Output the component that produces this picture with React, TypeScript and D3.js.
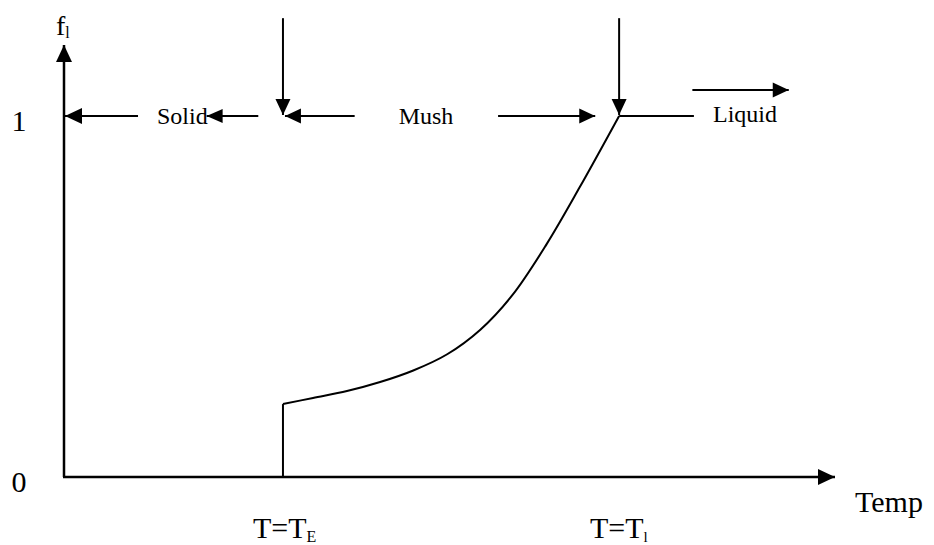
import React from "react";
import * as d3 from "d3";

// ---- data ----
const tempValues = [28.4, 32.3, 36.7, 41.0, 45.3, 49.7, 54.0, 58.2, 62.6, 66.9, 72.0];
const fractionValues = [0.202, 0.219, 0.238, 0.263, 0.295, 0.34, 0.408, 0.505, 0.645, 0.803, 1.0];
const eutecticTemp = 28.4;
const liquidusTemp = 72.0;
const yTickValues = [0, 1];
const yTickLabels = ["0", "1"];
const phaseLabels = ["Solid", "Mush", "Liquid"];

const W = 934;
const H = 545;
const FONT = "'Liberation Serif', 'Times New Roman', serif";

const x = d3.scaleLinear().domain([0, 100]).range([64, 835]);
const y = d3.scaleLinear().domain([0, 1]).range([477, 116]);

function arrowHead(tx: number, ty: number, dir: "l" | "r" | "u" | "d", len = 16, hw = 7.5) {
  let pts: [number, number][] = [];
  if (dir === "l") pts = [[tx, ty], [tx + len, ty - hw], [tx + len, ty + hw]];
  if (dir === "r") pts = [[tx, ty], [tx - len, ty - hw], [tx - len, ty + hw]];
  if (dir === "u") pts = [[tx, ty], [tx - hw, ty + len], [tx + hw, ty + len]];
  if (dir === "d") pts = [[tx, ty], [tx - hw, ty - len], [tx + hw, ty - len]];
  return "M" + pts.map((p) => p.join(",")).join("L") + "Z";
}

function Arrow({ x1, y1, x2, y2, dir, len, hw, sw = 2 }: any) {
  return (
    <g>
      <line x1={x1} y1={y1} x2={x2} y2={y2} stroke="#000" strokeWidth={sw} />
      <path d={arrowHead(x2, y2, dir, len, hw)} fill="#000" />
    </g>
  );
}

export default function App() {
  const curve = d3
    .line<number>()
    .x((_, i) => x(tempValues[i]))
    .y((d) => y(d))
    .curve(d3.curveCatmullRom.alpha(0.5))(fractionValues) as string;

  const yOne = y(1);
  const topY = y(1.271);
  const upperArrowY = y(1.072);

  return (
    <svg width={W} height={H} style={{ position: "absolute", left: 0, top: 0, background: "#fff" }}>
      <rect width={W} height={H} fill="#fff" />
      {/* axes */}
      <Arrow x1={x(0)} y1={y(0)} x2={x(0)} y2={y(1.197)} dir="u" len={17} hw={8} sw={2.5} />
      <Arrow x1={x(0) - 1} y1={y(0)} x2={x(100)} y2={y(0)} dir="r" len={17} hw={8} sw={2.5} />

      {/* y tick labels */}
      {yTickValues.map((v, i) => (
        <text key={i} x={19} y={y(v) + (v === 0 ? 15 : 15)} fontFamily={FONT} fontSize={30} textAnchor="middle">
          {yTickLabels[i]}
        </text>
      ))}

      {/* axis titles */}
      <text x={56} y={35} fontFamily={FONT} fontSize={28}>
        f<tspan fontSize={16} dy={3}>l</tspan>
      </text>
      <text x={855} y={512} fontFamily={FONT} fontSize={30}>Temp</text>

      {/* fraction liquid curve */}
      <line x1={x(eutecticTemp)} y1={y(0)} x2={x(eutecticTemp)} y2={y(fractionValues[0])} stroke="#000" strokeWidth={2} />
      <path d={curve} fill="none" stroke="#000" strokeWidth={2} />
      <line x1={x(liquidusTemp)} y1={yOne} x2={x(81.7)} y2={yOne} stroke="#000" strokeWidth={2} />

      {/* vertical marker arrows */}
      <Arrow x1={x(eutecticTemp)} y1={topY} x2={x(eutecticTemp)} y2={yOne - 1} dir="d" len={16} hw={7.5} />
      <Arrow x1={x(liquidusTemp)} y1={topY} x2={x(liquidusTemp)} y2={yOne - 1} dir="d" len={16} hw={7.5} />

      {/* Solid region */}
      <Arrow x1={x(9.6)} y1={yOne} x2={x(0) + 1} y2={yOne} dir="l" len={17} hw={8} />
      <text x={157} y={yOne + 8} fontFamily={FONT} fontSize={24}>{phaseLabels[0]}</text>
      <Arrow x1={x(25.2)} y1={yOne} x2={x(18.5)} y2={yOne} dir="l" len={16} hw={7} />

      {/* Mush region */}
      <Arrow x1={x(37.7)} y1={yOne} x2={x(eutecticTemp) + 2} y2={yOne} dir="l" len={16} hw={7.5} />
      <text x={426} y={yOne + 8} fontFamily={FONT} fontSize={24} textAnchor="middle">{phaseLabels[1]}</text>
      <Arrow x1={x(56.3)} y1={yOne} x2={x(68.9)} y2={yOne} dir="r" len={16} hw={7.5} />

      {/* Liquid region */}
      <Arrow x1={x(81.5)} y1={upperArrowY} x2={x(94.0)} y2={upperArrowY} dir="r" len={16} hw={7.5} />
      <text x={713} y={yOne + 6} fontFamily={FONT} fontSize={24}>{phaseLabels[2]}</text>

      {/* temperature markers */}
      <text x={253} y={538} fontFamily={FONT} fontSize={30}>
        T=T<tspan fontSize={16} dy={4}>E</tspan>
      </text>
      <text x={590} y={538} fontFamily={FONT} fontSize={30}>
        T=T<tspan fontSize={15} dy={4}>l</tspan>
      </text>
    </svg>
  );
}
